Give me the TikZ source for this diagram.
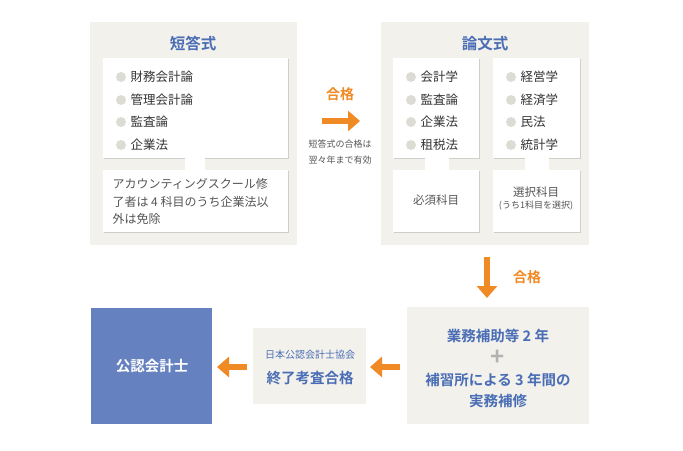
\documentclass[tikz,border=0pt]{standalone}
\usepackage{fontspec}
\setmainfont{Noto Sans CJK JP}[BoldFont={Noto Sans CJK JP Bold}]
\usetikzlibrary{arrows.meta,shadows}
\definecolor{bg}{HTML}{F2F1EC}
\definecolor{tblue}{HTML}{4A6DB5}
\definecolor{bblue}{HTML}{6681C0}
\definecolor{org}{HTML}{F08A24}
\definecolor{dot}{HTML}{DDDCD4}
\definecolor{txt}{HTML}{333333}
\definecolor{sub}{HTML}{555555}
\tikzset{
 panel/.style={fill=bg,draw=white,line width=1.5pt,drop shadow={shadow xshift=0.8pt,shadow yshift=-0.8pt,opacity=0.3}},
 inner/.style={fill=white,drop shadow={shadow xshift=0.6pt,shadow yshift=-0.6pt,opacity=0.3}},
 ttl/.style={text=tblue,font=\bfseries\fontsize{15.5}{17}\selectfont},
 item/.style={anchor=west,text=txt,font=\fontsize{12.5}{14}\selectfont},
 bul/.style={fill=dot,draw=none},
 arr/.style={draw=org,line width=5.5pt,-{Triangle[length=12pt,width=20pt]}},
 og/.style={text=org,font=\bfseries\fontsize{14}{16}\selectfont},
 note/.style={text=sub,font=\fontsize{12}{17.5}\selectfont,align=left},
 big/.style={text=tblue,font=\bfseries\fontsize{14.5}{21}\selectfont,align=center},
}
\begin{document}
\begin{tikzpicture}[x=1pt,y=-1pt]
\useasboundingbox[fill=white] (0,0) rectangle (683,450);
% box 1
\path[panel] (89,21) rectangle (298,246);
\node[ttl] (t1) at (193,44) {短答式};
\path[inner] (103,58) rectangle (288,158);
\path[inner] (103,170) rectangle (288,232);
\fill[white] (185,155) rectangle (205,173);
\foreach \y/\s [count=\i] in {77/財務会計論,100/管理会計論,122/監査論,145/企業法}{
 \fill[bul] (121,\y) circle (5);
 \node[item] (a\i) at (127,\y) {\s};}
\node[note,anchor=north west] (n1) at (109,175) {アカウンティングスクール修\\了者は 4 科目のうち企業法以\\外は免除};
% arrow right
\coordinate (r1) at (322,121); \coordinate (r2) at (360,121);
\draw[arr] (r1) -- (r2);
\node[og] (g1) at (340,94) {合格};
\node[text=sub,font=\fontsize{9}{16}\selectfont,align=center] (g1n) at (340,152) {短答式の合格は\\翌々年まで有効};
% box 2
\path[panel] (380,21) rectangle (590,246);
\node[ttl] (t2) at (485,44) {論文式};
\path[inner] (393,58) rectangle (479,158);
\path[inner] (493,58) rectangle (580,158);
\path[inner] (393,170) rectangle (479,232);
\path[inner] (493,170) rectangle (580,232);
\fill[white] (425,155) rectangle (449,173);
\fill[white] (525,155) rectangle (549,173);
\foreach \y/\s [count=\i] in {77/会計学,100/監査論,122/企業法,145/租税法}{
 \fill[bul] (411,\y) circle (5);
 \node[item] (b\i) at (417,\y) {\s};}
\foreach \y/\s [count=\i] in {77/経営学,100/経済学,122/民法,145/統計学}{
 \fill[bul] (511,\y) circle (5);
 \node[item] (c\i) at (517,\y) {\s};}
\node[text=sub,font=\fontsize{11.5}{13}\selectfont] (h1) at (436,200) {必須科目};
\node[text=sub,font=\fontsize{11.5}{13}\selectfont,align=center] (h2) at (536,199) {選択科目\\[-1pt]{\fontsize{9}{10}\selectfont (うち1科目を選択)}};
% down arrow
\coordinate (d1) at (487,257); \coordinate (d2) at (487,298);
\draw[arr] (d1) -- (d2);
\node[og] (g2) at (527,277) {合格};
% bottom right
\path[panel] (406,306) rectangle (590,425);
\node[big] (p1) at (498,336) {業務補助等 2 年};
\node[text=gray!60,font=\bfseries\fontsize{24}{24}\selectfont] (p2) at (498,358) {+};
\node[big] (p3) at (498,390) {補習所による 3 年間の\\実務補修};
% middle
\path[panel] (252,327) rectangle (367,405);
\node[text=tblue,font=\fontsize{10}{11}\selectfont] (m1) at (310,355) {日本公認会計士協会};
\node[big] (m2) at (310,378) {終了考査合格};
% left blue
\path[fill=bblue,draw=white,line width=1.5pt,drop shadow={shadow xshift=0.8pt,shadow yshift=-0.8pt,opacity=0.3}] (90,307) rectangle (213,425);
\node[text=white,font=\bfseries\fontsize{14.5}{16}\selectfont] (k) at (152,366) {公認会計士};
% left arrows
\coordinate (l1) at (400,367); \coordinate (l2) at (370,367);
\draw[arr] (l1) -- (l2);
\coordinate (l3) at (247,367); \coordinate (l4) at (217,367);
\draw[arr] (l3) -- (l4);
\end{tikzpicture}
\end{document}
